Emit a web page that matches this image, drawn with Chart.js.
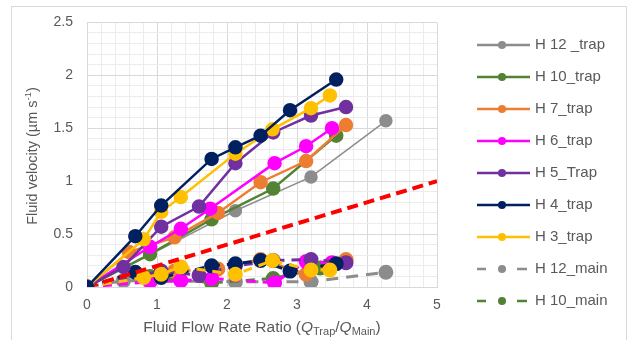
<!DOCTYPE html>
<html>
<head>
<meta charset="utf-8">
<script src="https://cdn.jsdelivr.net/npm/chart.js@4.4.0/dist/chart.umd.min.js"></script>
<style>
  html, body { margin: 0; padding: 0; background: #fff; }
  #frame { position: absolute; left: 11px; top: 6px; width: 614px; height: 340px; border: 1px solid #d9d9d9; }
  #wrap { position: absolute; left: 0; top: 0; width: 628px; height: 340px; }
</style>
</head>
<body>
<div id="frame"></div>
<div id="wrap"><canvas id="c" width="628" height="340"></canvas></div>
<script>
// trap series
const h12TrapX = [0, 2.12, 3.20, 4.27];
const h12TrapY = [0, 0.72, 1.04, 1.57];
const h10TrapX = [0, 0.90, 1.78, 2.66, 3.56];
const h10TrapY = [0, 0.31, 0.64, 0.93, 1.43];
const h7TrapX = [0, 0.60, 1.25, 1.87, 2.48, 3.13, 3.70];
const h7TrapY = [0, 0.33, 0.47, 0.70, 0.99, 1.19, 1.53];
const h6TrapX = [0, 0.90, 1.34, 1.76, 2.68, 3.13, 3.50];
const h6TrapY = [0, 0.38, 0.55, 0.74, 1.17, 1.33, 1.50];
const h5TrapX = [0, 0.52, 1.06, 1.60, 2.12, 2.66, 3.20, 3.70];
const h5TrapY = [0, 0.19, 0.57, 0.76, 1.17, 1.46, 1.62, 1.70];
const h4TrapX = [0, 0.69, 1.06, 1.78, 2.12, 2.48, 2.90, 3.56];
const h4TrapY = [0, 0.48, 0.77, 1.21, 1.32, 1.43, 1.67, 1.96];
const h3TrapX = [0, 0.81, 1.06, 1.34, 2.12, 2.65, 3.20, 3.47];
const h3TrapY = [0, 0.45, 0.71, 0.85, 1.26, 1.49, 1.69, 1.81];

// main series
const h12MainX = [0, 0.52, 2.12, 3.20, 4.27];
const h12MainY = [0, 0.06, 0.05, 0.05, 0.14];
const h10MainX = [0, 0.90, 1.78, 2.66, 3.33];
const h10MainY = [0, 0.10, 0.04, 0.08, 0.18];
const h7MainX = [0, 1.25, 1.87, 2.48, 3.13, 3.70];
const h7MainY = [0, 0.15, 0.17, 0.26, 0.12, 0.26];
const h6MainX = [0, 0.90, 1.34, 1.78, 2.68, 3.13, 3.50];
const h6MainY = [0, 0.05, 0.06, 0.08, 0.04, 0.24, 0.23];
const h5MainX = [0, 1.06, 1.60, 2.12, 2.66, 3.20, 3.70];
const h5MainY = [0, 0.15, 0.11, 0.20, 0.25, 0.26, 0.23];
const h4MainX = [0, 0.69, 1.06, 1.78, 2.12, 2.48, 2.90, 3.56];
const h4MainY = [0, 0.14, 0.09, 0.20, 0.22, 0.25, 0.15, 0.22];
const h3MainX = [0, 0.81, 1.06, 1.34, 2.12, 2.65, 3.20, 3.47];
const h3MainY = [0, 0.09, 0.12, 0.19, 0.12, 0.25, 0.16, 0.16];

// reference line y = x/5
const refX = [0, 5];
const refY = [0, 1];

const yTicks = [0, 0.5, 1, 1.5, 2, 2.5];
const xTicks = [0, 1, 2, 3, 4, 5];

const GRAY = '#8c8c8c', GREEN = '#548235', ORANGE = '#ed7d31', MAGENTA = '#ff00ff',
      PURPLE = '#7030a0', NAVY = '#002060', YELLOW = '#ffc000', RED = '#ff0000';
const TXT = '#595959';
const FONT = '"Liberation Sans", Arial, sans-serif';

function pts(xs, ys) { return xs.map((x, i) => ({ x: x, y: ys[i] })); }

function trap(label, xs, ys, color, w, order) {
  return { label, data: pts(xs, ys), borderColor: color, backgroundColor: color,
    borderWidth: w, pointRadius: 6, pointHoverRadius: 6, showLine: true, order, legend: true };
}
function main(label, xs, ys, color, dash, order, inLegend) {
  return { label, data: pts(xs, ys), borderColor: color, backgroundColor: color,
    borderWidth: 3, borderDash: dash, pointRadius: 6, pointHoverRadius: 6, showLine: true, order, legend: inLegend };
}

const datasets = [
  trap('H 12 _trap', h12TrapX, h12TrapY, GRAY, 1.5, 7),
  trap('H 10_trap', h10TrapX, h10TrapY, GREEN, 2.5, 6),
  trap('H 7_trap', h7TrapX, h7TrapY, ORANGE, 2.5, 5),
  trap('H 6_trap', h6TrapX, h6TrapY, MAGENTA, 2.5, 4),
  trap('H 5_Trap', h5TrapX, h5TrapY, PURPLE, 2.5, 3),
  trap('H 4_trap', h4TrapX, h4TrapY, NAVY, 2.5, 1),
  trap('H 3_trap', h3TrapX, h3TrapY, YELLOW, 2.5, 2),
  main('H 12_main', h12MainX, h12MainY, GRAY, [12, 8], 15, true),
  main('H 10_main', h10MainX, h10MainY, GREEN, [9, 7], 14, true),
  main('H 7_main', h7MainX, h7MainY, ORANGE, [9, 7], 13, false),
  main('H 6_main', h6MainX, h6MainY, MAGENTA, [9, 7], 12, false),
  main('H 5_main', h5MainX, h5MainY, PURPLE, [9, 7], 11, false),
  main('H 4_main', h4MainX, h4MainY, NAVY, [9, 7], 10, false),
  main('H 3_main', h3MainX, h3MainY, YELLOW, [9, 7], 9, false),
  { label: 'ref', data: pts(refX, refY), borderColor: RED, borderWidth: 4, borderDash: [11, 6],
    pointRadius: 0, showLine: true, order: 8, legend: false }
];

function isMajor(v, step) { return Math.abs(v / step - Math.round(v / step)) < 1e-6; }

const chrome = {
  id: 'chrome',
  afterDraw(chart) {
    const ctx = chart.ctx;
    const ca = chart.chartArea;
    ctx.save();
    ctx.fillStyle = TXT;
    // y title
    ctx.save();
    ctx.translate(33, 156);
    ctx.rotate(-Math.PI / 2);
    ctx.textBaseline = 'middle';
    const yParts = [['Fluid velocity (µm s', '14.5px ' + FONT, 0], ['-1', '9.5px ' + FONT, -5], [')', '14.5px ' + FONT, 0]];
    drawRuns(ctx, yParts);
    ctx.restore();
    // x title
    ctx.save();
    ctx.translate(262, 328);
    ctx.textBaseline = 'middle';
    const xParts = [['Fluid Flow Rate Ratio (', '15.5px ' + FONT, 0], ['Q', 'italic 15.5px ' + FONT, 0],
      ['Trap', '11px ' + FONT, 4], ['/', '15.5px ' + FONT, 0], ['Q', 'italic 15.5px ' + FONT, 0],
      ['Main', '11px ' + FONT, 4], [')', '15.5px ' + FONT, 0]];
    drawRuns(ctx, xParts);
    ctx.restore();
    // legend
    let y = 45;
    chart.data.datasets.forEach(ds => {
      if (!ds.legend) return;
      ctx.strokeStyle = ds.borderColor;
      ctx.lineWidth = 2.5;
      ctx.beginPath();
      if (ds.borderDash) {
        ctx.moveTo(477, y); ctx.lineTo(486, y);
        ctx.moveTo(517, y); ctx.lineTo(527, y);
      } else {
        ctx.moveTo(477, y); ctx.lineTo(530, y);
      }
      ctx.stroke();
      ctx.fillStyle = ds.borderColor;
      ctx.beginPath();
      ctx.arc(502, y, 4, 0, Math.PI * 2);
      ctx.fill();
      ctx.fillStyle = TXT;
      ctx.font = '15px ' + FONT;
      ctx.textBaseline = 'middle';
      ctx.textAlign = 'left';
      ctx.fillText(ds.label, 535, y);
      y += 32;
    });
    ctx.restore();
  }
};

function drawRuns(ctx, parts) {
  let total = 0;
  parts.forEach(p => { ctx.font = p[1]; total += ctx.measureText(p[0]).width; });
  let x = -total / 2;
  ctx.textAlign = 'left';
  parts.forEach(p => {
    ctx.font = p[1];
    ctx.fillText(p[0], x, p[2]);
    x += ctx.measureText(p[0]).width;
  });
}

new Chart(document.getElementById('c').getContext('2d'), {
  type: 'scatter',
  data: { datasets },
  options: {
    responsive: false,
    animation: false,
    layout: { padding: { top: 22, right: 191, left: 0, bottom: 0 } },
    plugins: { legend: { display: false }, tooltip: { enabled: false } },
    scales: {
      x: {
        type: 'linear', min: 0, max: 5,
        afterFit: s => { s.height = 53; },
        ticks: {
          stepSize: 0.2, autoSkip: false, maxRotation: 0, padding: 10,
          color: TXT, font: { family: FONT, size: 14 },
          callback: v => (isMajor(v, 1) && xTicks.includes(Math.round(v))) ? String(Math.round(v)) : ''
        },
        grid: { drawTicks: false, color: c => isMajor(c.tick.value, 1) ? '#d9d9d9' : '#ececec', lineWidth: 1 },
        border: { color: '#d9d9d9' }
      },
      y: {
        type: 'linear', min: 0, max: 2.5,
        afterFit: s => { s.width = 87; },
        ticks: {
          stepSize: 0.1, autoSkip: false, padding: 14,
          color: TXT, font: { family: FONT, size: 14 },
          callback: v => {
            const r = Math.round(v * 10) / 10;
            return (isMajor(v, 0.5) && yTicks.includes(r)) ? String(r) : '';
          }
        },
        grid: { drawTicks: false, color: c => isMajor(c.tick.value, 0.5) ? '#d9d9d9' : '#ececec', lineWidth: 1 },
        border: { color: '#d9d9d9' }
      }
    }
  },
  plugins: [chrome]
});
</script>
</body>
</html>
